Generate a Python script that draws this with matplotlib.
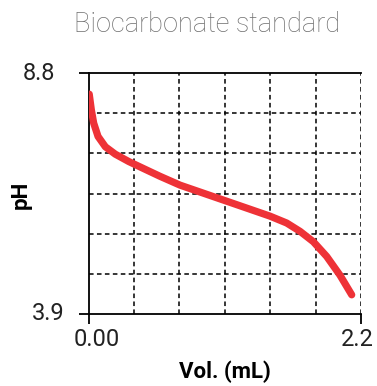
import matplotlib.pyplot as plt
from matplotlib.transforms import offset_copy
import numpy as np

# titration curve
vol = [0.006, 0.023, 0.042, 0.077, 0.136, 0.216, 0.325, 0.459, 0.577, 0.739,
       1.062, 1.304, 1.465, 1.600, 1.708, 1.815, 1.923, 2.030, 2.125]
ph = [8.37, 8.05, 7.78, 7.51, 7.30, 7.15, 7.00, 6.84, 6.70, 6.52,
      6.24, 6.03, 5.89, 5.75, 5.58, 5.37, 5.07, 4.69, 4.29]

x_ticks = [0.0, 2.2]
x_labels = ["0.00", "2.2"]
y_ticks = [3.9, 8.8]
y_labels = ["3.9", "8.8"]

title = "Biocarbonate standard"
xlabel = "Vol. (mL)"
ylabel = "pH"

plt.rcParams['font.family'] = ['Roboto', 'DejaVu Sans']

fig = plt.figure(figsize=(3.77, 3.86), dpi=100)
W, H = 377, 386
ax = fig.add_axes([88.5 / W, (H - 314) / H, (361 - 88.5) / W, (314 - 73) / H])

ax.set_xlim(0, 2.2)
ax.set_ylim(3.9, 8.8)

# dashed grid, 6 cells each way
gx = np.linspace(0, 2.2, 7)[1:]
gy = np.linspace(3.9, 8.8, 7)[1:-1]
ax.vlines(gx, 3.9, 8.8, colors='black', linestyles=(0, (3, 2.2)), linewidth=1.1, zorder=1)
ax.hlines(gy, 0, 2.2, colors='black', linestyles=(0, (3, 2.2)), linewidth=1.1, zorder=1)

ax.plot(vol, ph, color='#ee3237', linewidth=5.2, solid_capstyle='round',
        solid_joinstyle='round', zorder=3)

for s in ['left', 'top', 'bottom']:
    ax.spines[s].set_linewidth(1.3)
ax.spines['right'].set_visible(False)

ax.set_xticks(x_ticks)
ax.set_yticks(y_ticks)
ax.set_xticklabels([])
ax.set_yticklabels([])
ax.tick_params(axis='both', direction='out', length=7.5, width=1.3, color='black')

# tick labels placed by hand, as in the original
lab = dict(fontsize=17, fontweight='normal', color='#222222')
tr = ax.get_yaxis_transform()
ax.text(0, y_ticks[0], y_labels[0], transform=offset_copy(tr, fig, x=-17, y=0, units='points'),
        ha='right', va='center', **lab)
ax.text(0, y_ticks[1], y_labels[1], transform=offset_copy(tr, fig, x=-24, y=0, units='points'),
        ha='right', va='center', **lab)
trx = ax.get_xaxis_transform()
ax.text(x_ticks[0], 0, x_labels[0], transform=offset_copy(trx, fig, x=6, y=-10, units='points'),
        ha='center', va='top', **lab)
ax.text(x_ticks[1], 0, x_labels[1], transform=offset_copy(trx, fig, x=-3, y=-10, units='points'),
        ha='center', va='top', **lab)

fig.text(207 / W, 1 - 24 / H, title, ha='center', va='center', fontsize=19.5,
         fontweight='light', color='#6e6e6e')
fig.text(225 / W, 1 - 372 / H, xlabel, ha='center', va='center', fontsize=16,
         fontweight='bold', color='black')
fig.text(21 / W, 1 - 195 / H, ylabel, ha='center', va='center', rotation=90,
         fontsize=16, fontweight='bold', color='black')

fig.savefig('out.png', dpi=100)
